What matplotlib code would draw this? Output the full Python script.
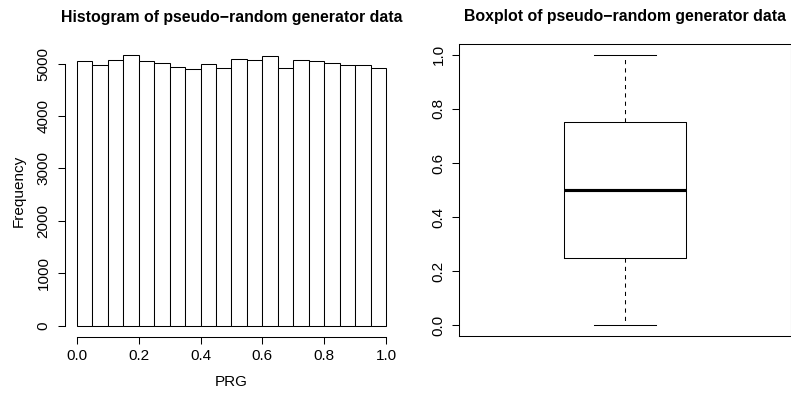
import matplotlib
matplotlib.use("Agg")
import matplotlib.pyplot as plt
import numpy as np

plt.rcParams['font.family'] = ['Liberation Sans', 'DejaVu Sans']

# Histogram data (20 bins over [0, 1])
bin_edges = [i / 20 for i in range(21)]
counts = [5044, 4981, 5063, 5158, 5057, 5006, 4930, 4905, 5000, 4911,
          5082, 5070, 5140, 4924, 5070, 5044, 5006, 4981, 4968, 4918]
hist_xticks = [0.0, 0.2, 0.4, 0.6, 0.8, 1.0]
hist_yticks = [0, 1000, 2000, 3000, 4000, 5000]

# Boxplot summary statistics
box_min, box_q1, box_med, box_q3, box_max = 0.0, 0.25, 0.5, 0.75, 1.0
box_yticks = [0.0, 0.2, 0.4, 0.6, 0.8, 1.0]

W, H = 791, 395
fig = plt.figure(figsize=(W / 100, H / 100), dpi=100)

lw = 0.75
fs_tick = 11.0
fs_title = 11.4

# ---- Histogram ----
ax1 = fig.add_axes([64.6 / W, 1 - 336.5 / H, (398.4 - 64.6) / W, (336.5 - 44.6) / H])
lefts = bin_edges[:-1]
widths = [bin_edges[i + 1] - bin_edges[i] for i in range(20)]
ax1.bar(lefts, counts, width=widths, align='edge', color='white',
        edgecolor='black', linewidth=lw)
ymax = max(counts)
ax1.set_xlim(-0.04, 1.04)
ax1.set_ylim(-0.04 * ymax, 1.04 * ymax)
for s in ['top', 'right']:
    ax1.spines[s].set_visible(False)
ax1.spines['left'].set_bounds(0, 5000)
ax1.spines['bottom'].set_bounds(0, 1)
for s in ['left', 'bottom']:
    ax1.spines[s].set_linewidth(lw)
ax1.set_xticks(hist_xticks)
ax1.set_xticklabels([f"{v:.1f}" for v in hist_xticks])
ax1.set_yticks(hist_yticks)
ax1.set_yticklabels([str(v) for v in hist_yticks], rotation=90, va='center')
ax1.tick_params(axis='both', length=5, width=lw, labelsize=fs_tick, pad=4)
ax1.tick_params(axis='y', pad=5)
ax1.set_xlabel("PRG", fontsize=fs_tick, labelpad=9)
ax1.set_ylabel("Frequency", fontsize=fs_tick, labelpad=8)
ax1.set_title("Histogram of pseudo\u2212random generator data",
              fontsize=fs_title, fontweight='bold', pad=16.5)

# ---- Boxplot ----
ax2 = fig.add_axes([459.3 / W, 1 - 336 / H, (790.5 - 459.3) / W, (336 - 44) / H])
stats = [dict(whislo=box_min, q1=box_q1, med=box_med, q3=box_q3,
              whishi=box_max, fliers=[])]
ax2.bxp(stats, positions=[1], widths=0.4, showfliers=False,
        boxprops=dict(color='black', linewidth=lw),
        whiskerprops=dict(color='black', linewidth=lw, linestyle=(0, (4, 4))),
        capprops=dict(color='black', linewidth=lw),
        medianprops=dict(color='black', linewidth=2.25, solid_capstyle='butt'),
        capwidths=0.2)
ax2.set_xlim(0.46, 1.54)
ax2.set_ylim(-0.04, 1.04)
ax2.set_xticks([])
ax2.set_yticks(box_yticks)
ax2.set_yticklabels([f"{v:.1f}" for v in box_yticks], rotation=90, va='center')
ax2.tick_params(axis='y', length=5, width=lw, labelsize=fs_tick, pad=5)
for s in ax2.spines.values():
    s.set_linewidth(lw)
ax2.set_title("Boxplot of pseudo\u2212random generator data",
              fontsize=fs_title, fontweight='bold', pad=16.5)

fig.savefig("out.png", dpi=100)
